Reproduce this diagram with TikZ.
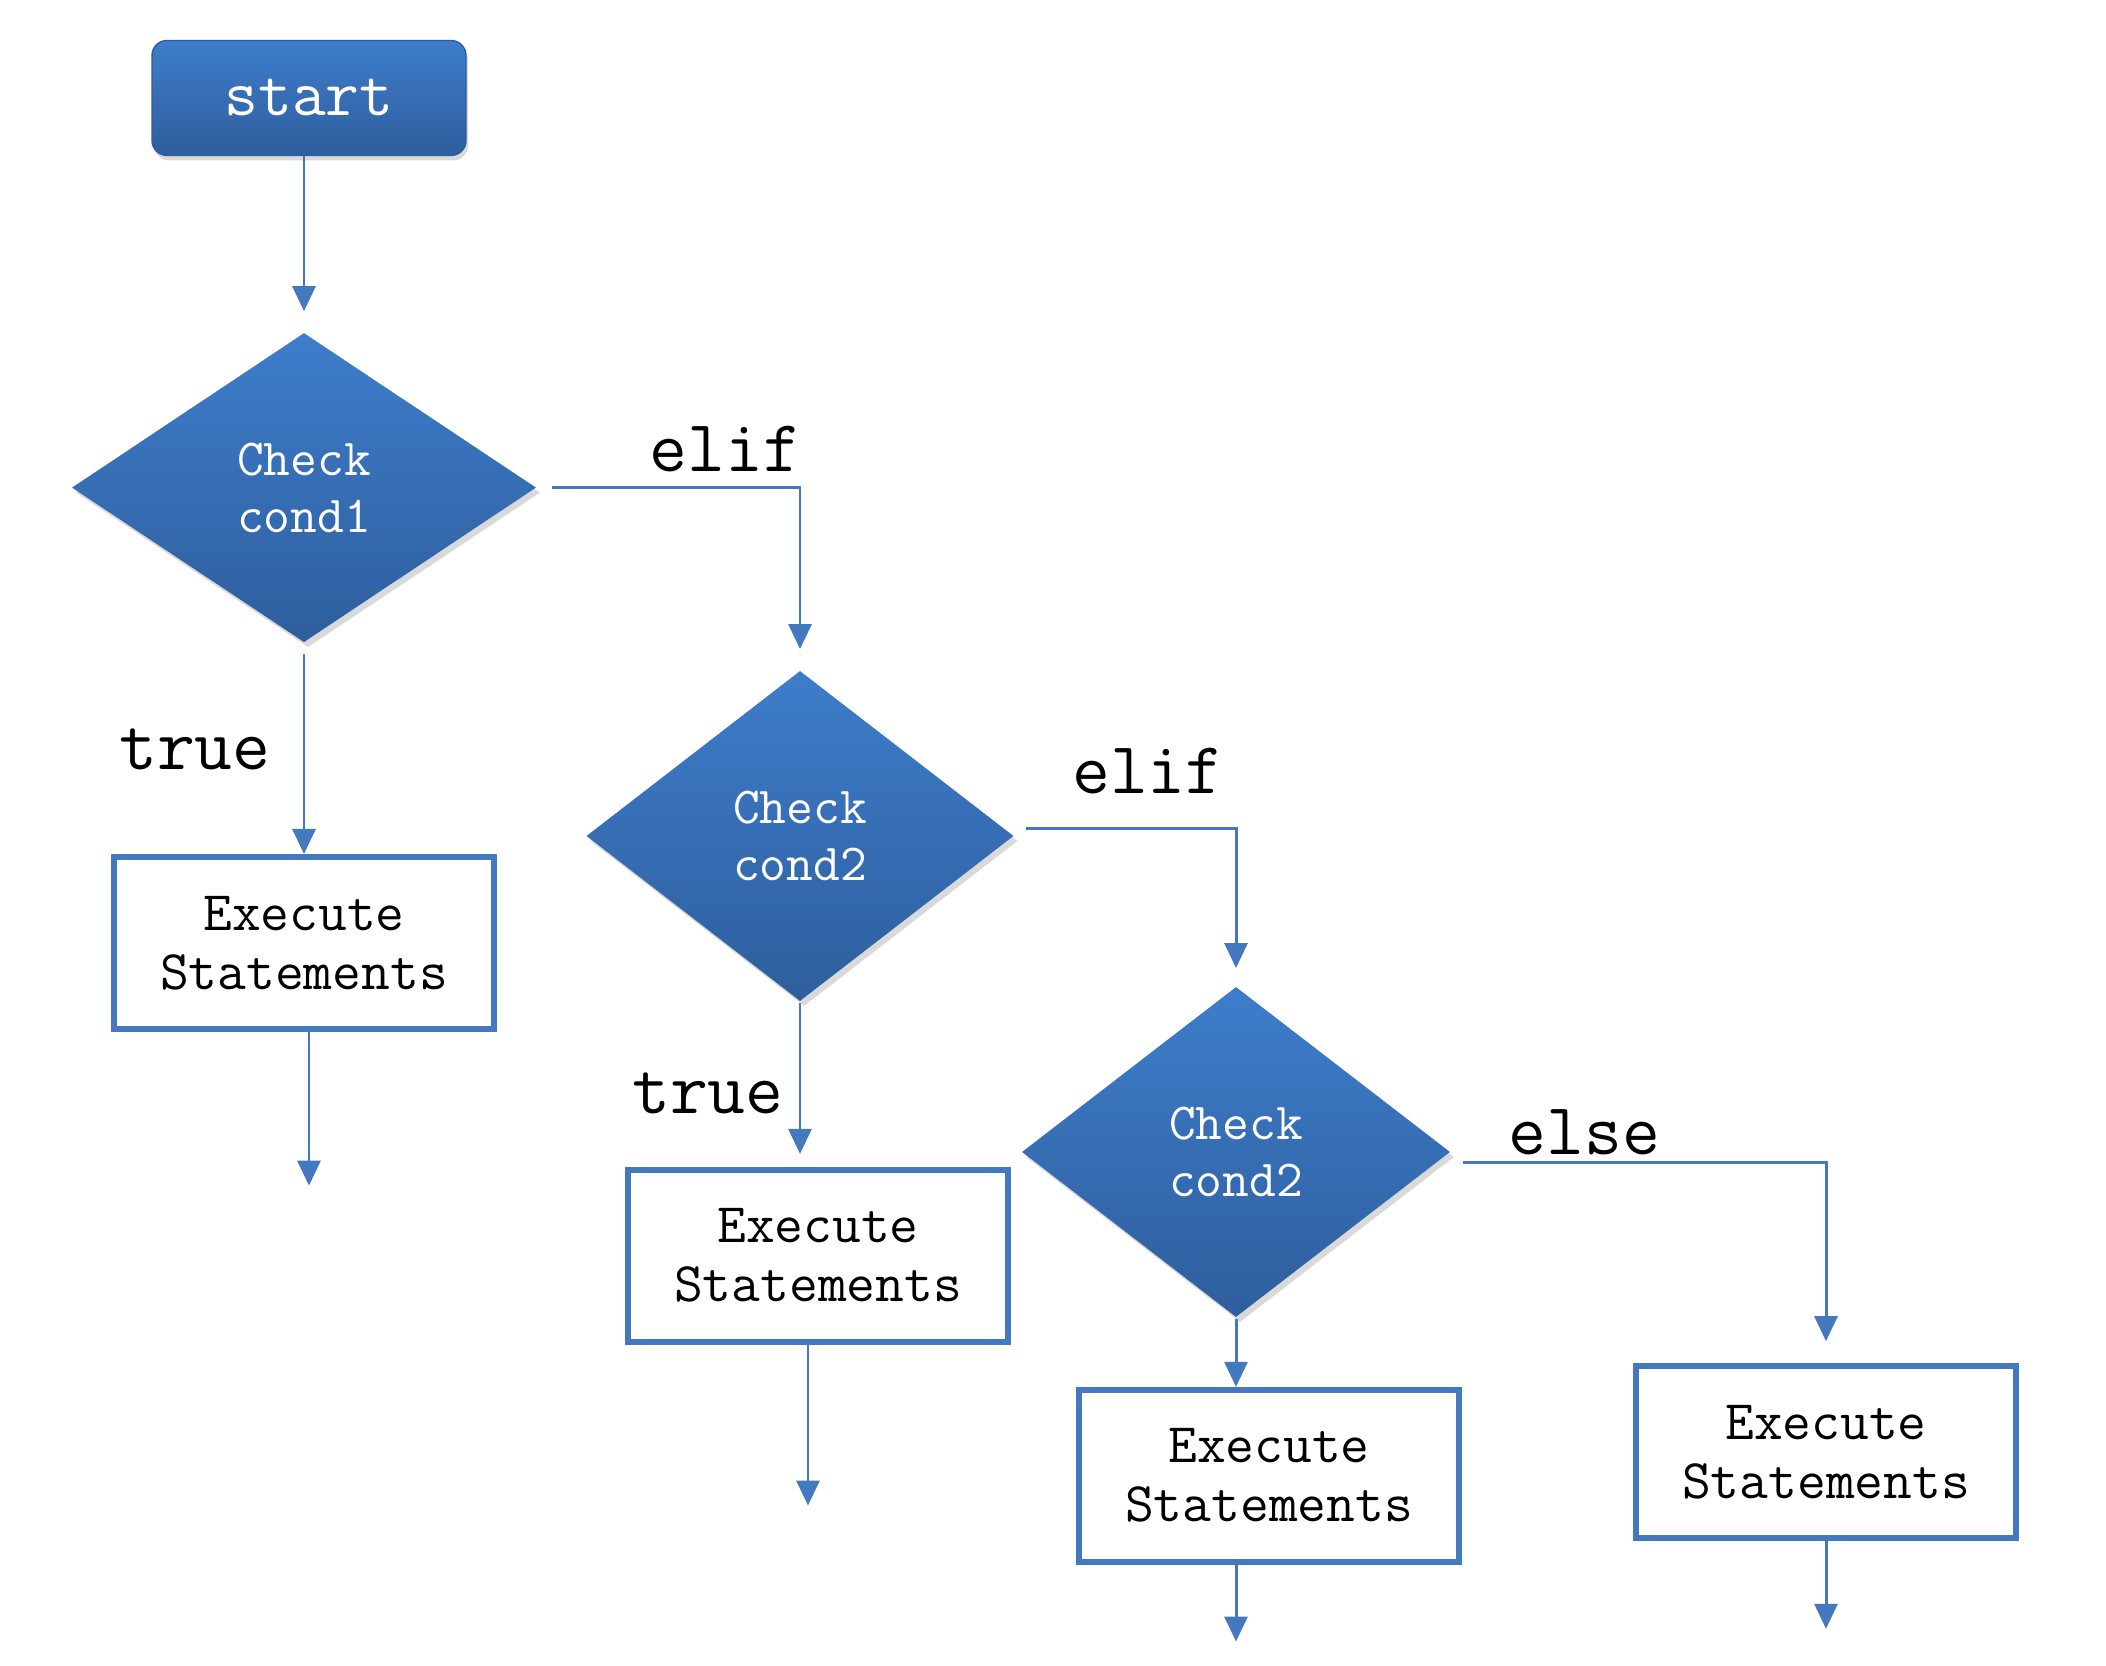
\documentclass[tikz,border=0pt]{standalone}
\usepackage{fontspec}
\usetikzlibrary{positioning,shapes.geometric,shadows,arrows.meta}

\definecolor{flowtop}{HTML}{3E7DCB}
\definecolor{flowbottom}{HTML}{2E5E9D}
\definecolor{flowline}{HTML}{4479BF}

\begin{document}
\begin{tikzpicture}[node distance=1.8cm, thick]

        % Styles
        \tikzstyle{terminal} = [draw=flowbottom, line width=0.4pt, rectangle, rounded corners=0.15cm, minimum width=3.14cm, minimum height=1.15cm, top color=flowtop, bottom color=flowbottom, text=white, font=\ttfamily\fontsize{18.7}{22}\selectfont, drop shadow={shadow xshift=0.02cm, shadow yshift=-0.05cm, opacity=0.3}]
        \tikzstyle{decision} = [diamond, draw=none, minimum width=4.65cm, minimum height=3.1cm, inner sep=0pt, top color=flowtop, bottom color=flowbottom, text=white, align=center, font=\ttfamily\fontsize{14.8}{16.2}\selectfont, drop shadow={shadow xshift=0.04cm, shadow yshift=-0.05cm, opacity=0.3}]
        \tikzstyle{process} = [draw=flowline, line width=1.6pt, rectangle, minimum width=3.8cm, minimum height=1.72cm, fill=white, align=center, font=\ttfamily\fontsize{15.9}{16.8}\selectfont]
        \tikzstyle{branch} = [text=black, font=\ttfamily\fontsize{20.9}{24}\selectfont]
        \tikzstyle{arrow} = [-{Triangle[length=2.5mm, width=2.3mm]}, draw=flowline, line width=0.85pt]

        \useasboundingbox (0,0) rectangle (21.06,16.66);

        % Nodes
        \node [terminal] (start) at (3.09,15.68) {start};
        \node [decision, below=1.75cm of start, xshift=-0.05cm] (cond1) {Check\\cond1};
        \node [process, below=2.1cm of cond1] (exec1) {Execute\\Statements};
        \node [decision, minimum width=4.28cm, minimum height=3.31cm] (cond2) at (8.0,8.3) {Check\\cond2};
        \node [process, below=1.64cm of cond2, xshift=0.18cm] (exec2) {Execute\\Statements};
        \node [decision, minimum width=4.29cm, minimum height=3.31cm] (cond3) at (12.36,5.14) {Check\\cond2};
        \node [process, below=0.68cm of cond3, xshift=0.33cm] (exec3) {Execute\\Statements};
        \node [process] (exec4) at (18.26,2.14) {Execute\\Statements};

        % Loose ends
        \coordinate [below=1.54cm of exec1, xshift=0.05cm] (out1);
        \coordinate [below=1.61cm of exec2, xshift=-0.1cm] (out2);
        \coordinate (out3) at ([yshift=-0.77cm]cond3.south |- exec3.south);
        \coordinate [below=0.88cm of exec4] (out4);

        % Arrows
        \draw[arrow, shorten >=0.2cm] (start.south -| cond1) -- (cond1);
        \draw[arrow, shorten <=0.1cm] (cond1) -- node[branch, left, inner sep=0.32cm] {true} (exec1);
        \draw[arrow, shorten >=0.2cm] ([xshift=0.14cm]cond1.east) -| node[branch, above, pos=0.35, inner sep=0.14cm] {elif} (cond2.north);
        \draw[arrow, shorten >=0.13cm] (cond2.south) -- node[branch, left, pos=0.55, inner sep=0.15cm] {true} (cond2.south |- exec2.north);
        \draw[arrow, shorten >=0.17cm] ([shift={(0.11,0.07)}]cond2.east) -| node[branch, above, pos=0.29, inner sep=0.34cm] {elif} (cond3.north);
        \draw[arrow] (cond3.south) -- (cond3.south |- exec3.north);
        \draw[arrow, shorten >=0.22cm] ([shift={(0.11,-0.11)}]cond3.east) -| node[branch, above, pos=0.167, inner sep=0.07cm] {else} (exec4.north);
        \draw[arrow] (exec1.south -| out1) -- (out1);
        \draw[arrow] (exec2.south -| out2) -- (out2);
        \draw[arrow] (cond3.south |- exec3.south) -- (out3);
        \draw[arrow] (exec4) -- (out4);

\end{tikzpicture}
\end{document}
